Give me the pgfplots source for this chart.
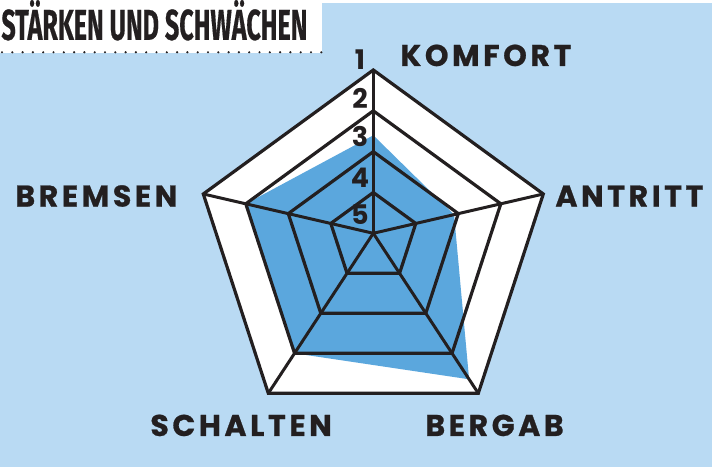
\documentclass[border=0pt]{standalone}
\usepackage{pgfplots}
\pgfplotsset{compat=1.18}
\usepackage{pgfplotstable}
\usepackage{graphicx}
\usepackage{fontspec}
\setmainfont{Poppins}
\newfontfamily\labfont[LetterSpace=12, BoldFeatures={FakeBold=0.8}]{Poppins}
\newfontfamily\titlefont[BoldFeatures={FakeBold=0.6}]{Fira Sans}

\definecolor{bg}{RGB}{185,218,243}
\definecolor{fillblue}{RGB}{91,167,221}
\definecolor{ink}{RGB}{35,31,32}

% spoke directions (pixels from the centre, y downwards) and scores (1 = best, 5 = worst)
\pgfplotstableread{
name     dx     dy      v
KOMFORT  0      -163.3  2.6
ANTRITT  170    -39.3   3.1
BERGAB   105    160     1.35
SCHALTEN -105   160     2
BREMSEN  -170   -39.3   2
}\scores

\begin{document}
\begin{tikzpicture}
\begin{axis}[
  x=0.5pt, y=0.5pt, y dir=reverse,
  xmin=0, xmax=712, ymin=0, ymax=464,
  hide axis, clip=false,
  every axis plot/.append style={no marks},
]
% background and title box
\fill[bg] (axis cs:0,0) rectangle (axis cs:712,464);
\fill[white] (axis cs:0,0) rectangle (axis cs:322,50);
\draw[ink, line width=1.2pt, line cap=round, dash pattern=on 0pt off 5.15pt]
  (axis cs:2,49) -- (axis cs:322,49);
\node[anchor=base west, inner sep=0, text=ink] at (axis cs:1,36.5)
  {\resizebox{153pt}{\height}{\titlefont\bfseries\fontsize{21.5}{21.5}\selectfont ST\"ARKEN UND SCHW\"ACHEN}};

% white pentagon
\addplot[fill=white, draw=none] table[x expr=373.3+\thisrow{dx}, y expr=230+\thisrow{dy}] {\scores} -- cycle;
% scores
\addplot[fill=fillblue, draw=none] table[x expr=373.3+(5-\thisrow{v})/4*\thisrow{dx}, y expr=230+(5-\thisrow{v})/4*\thisrow{dy}] {\scores} -- cycle;
% grid pentagons, levels 1 to 4
\pgfplotsinvokeforeach{1,2,3,4}{
  \addplot[ink, line width=1.6pt, line join=miter] table[x expr=373.3+(5-#1)/4*\thisrow{dx}, y expr=230+(5-#1)/4*\thisrow{dy}] {\scores} -- cycle;
}
% spokes
\addplot[ink, line width=1.5pt, -, quiver={u=\thisrow{dx}, v=\thisrow{dy}}] table[x expr=373.3, y expr=230] {\scores};

% scale numbers
\tikzset{num/.style={anchor=base, inner sep=0, text=ink, font=\bfseries\fontsize{13.5}{13.5}\selectfont}}
\node[num] at (axis cs:360,66.7) {1};
\node[num] at (axis cs:360,105) {2};
\node[num] at (axis cs:360,143.3) {3};
\node[num] at (axis cs:360,184) {4};
\node[num] at (axis cs:360,221.7) {5};

% category labels
\tikzset{lab/.style={anchor=base west, inner sep=0, text=ink, font=\labfont\bfseries\fontsize{15}{15}\selectfont}}
\node[lab] at (axis cs:400,62.7) {KOMFORT};
\node[lab] at (axis cs:555,203.3) {ANTRITT};
\node[lab] at (axis cs:425,432.7) {BERGAB};
\node[lab] at (axis cs:150,432.7) {SCHALTEN};
\node[lab] at (axis cs:15,203.3) {BREMSEN};
\end{axis}
\end{tikzpicture}
\end{document}
